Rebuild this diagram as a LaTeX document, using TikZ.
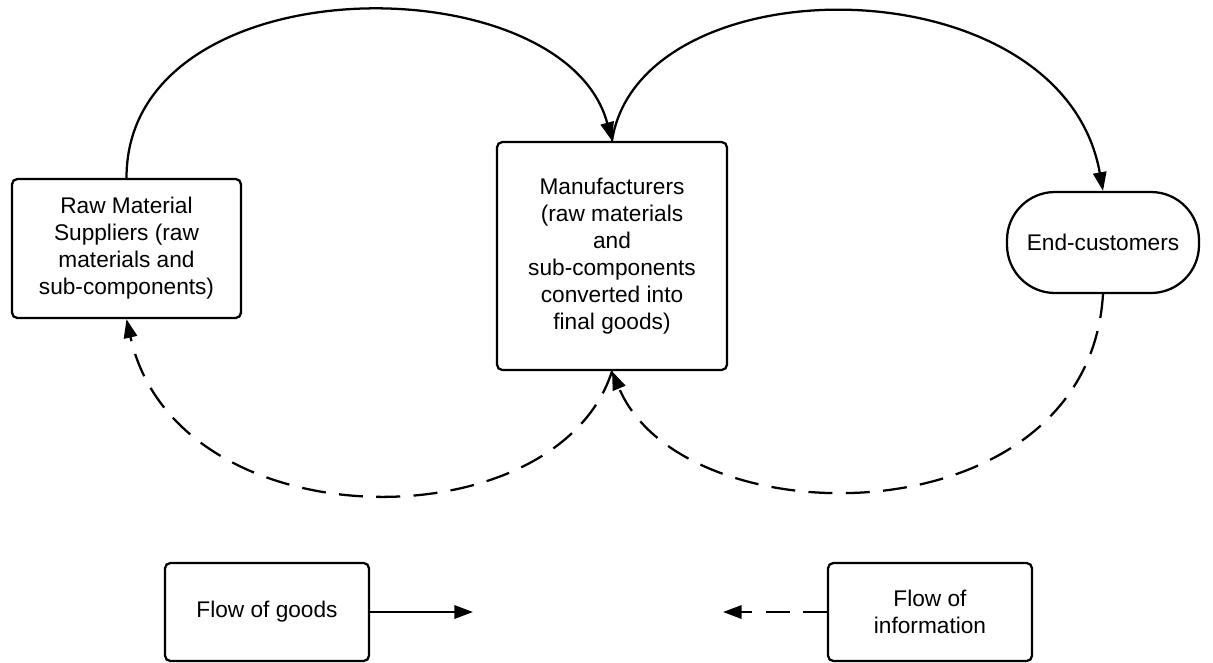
\documentclass[tikz,border=0pt]{standalone}
\usepackage{fontspec}
\setmainfont{Liberation Sans}
\usetikzlibrary{arrows.meta}

\begin{document}
\begin{tikzpicture}[x=0.75pt,y=-0.75pt,
  font=\fontsize{17pt}{20.25pt}\selectfont,
  every node/.style={inner sep=0pt},
  boxnode/.style={draw,line width=1.7pt,rounded corners=4pt,align=center},
  pillnode/.style={draw,line width=1.7pt,rounded corners=36pt,align=center},
  goods/.style={line width=1.7pt,-{Triangle[length=14pt,width=10pt]}},
  info/.style={line width=1.7pt,dash pattern=on 18pt off 10pt,-{Triangle[length=14pt,width=10pt]}}]

\useasboundingbox (0,0) rectangle (1213,662);

% supply chain stages
\node[boxnode,minimum width=171.75pt,minimum height=104.25pt] (raw) at (126.5,248.5)
  {Raw Material\\Suppliers (raw\\materials and\\sub-components)};
\node[boxnode,minimum width=172.5pt,minimum height=171pt] (manu) at (612,256)
  {Manufacturers\\(raw materials\\and\\sub-components\\converted into\\final goods)};
\node[pillnode,minimum width=144pt,minimum height=75.75pt] (cust) at (1103,242.5)
  {End-customers};

% legend
\node[boxnode,minimum width=153pt,minimum height=73.5pt] (lgoods) at (267,612) {Flow of goods};
\node[boxnode,minimum width=153pt,minimum height=73.5pt] (linfo) at (930,612) {Flow of\\information};
\coordinate (lgoodsend) at (473,612);
\coordinate (linfoend) at (723,612);

% flow of goods
\draw[goods] (raw.north) .. controls +(0,-216) and +(-48,-179) .. (manu.north);
\draw[goods] (manu.north) .. controls +(28,-180) and +(-41,-230) .. (cust.north);

% flow of information
\draw[info] (cust.south) .. controls +(-15,247) and +(71,170) .. (manu.south);
\draw[info] (manu.south) .. controls +(-55,173) and +(50,225) .. (raw.south);

% legend arrows
\draw[goods] (lgoods.east) -- (lgoodsend);
\draw[info] (linfo.west) -- (linfoend);
\end{tikzpicture}
\end{document}
